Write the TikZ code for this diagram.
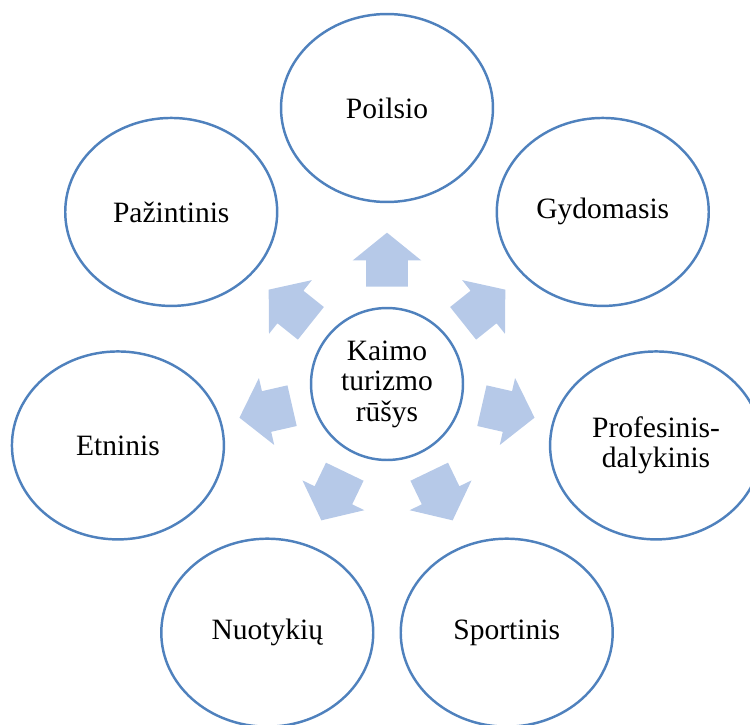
\documentclass[tikz,border=0pt]{standalone}
\usepackage{fontspec}
\setmainfont{Liberation Serif}
\usetikzlibrary{shapes.geometric,shapes.arrows}
\definecolor{linija}{RGB}{79,129,189}
\definecolor{rodyklesp}{RGB}{182,201,232}
\tikzset{
  rusis/.style={ellipse, draw=linija, line width=1.4pt, minimum width=4.24cm, minimum height=3.76cm,
    inner sep=0pt, align=center, font=\fontsize{16.8}{17.4}\selectfont},
  centras/.style={circle, draw=linija, line width=1.4pt, minimum size=3.04cm,
    inner sep=0pt, align=center, font=\fontsize{16.8}{17.4}\selectfont},
  rodykle/.style={single arrow, fill=rodyklesp, draw=none, minimum height=1.08cm, anchor=tail,
    inner xsep=0pt, inner ysep=0.41cm, single arrow head extend=0.27cm, single arrow tip angle=102}
}

\begin{document}
\begin{tikzpicture}[x=0.02cm,y=0.02cm]
            \useasboundingbox (-387,-340) rectangle (363,384);
            
            \node[centras] (kaimas) at (0,0) {Kaimo\\turizmo\\rūšys};
            
            \node[rusis] (poilsio) at (90:276) {Poilsio};
            \node[rusis] (gydomasis) at (38.57:276) {Gydomasis};
            \node[rusis] (profesinis) at (-12.86:276) {Profesinis-\\dalykinis};
            \node[rusis] (sportinis) at (-64.29:276) {Sportinis};
            \node[rusis] (nuotykiu) at (-115.71:276) {Nuotykių};
            \node[rusis] (etninis) at (-167.14:276) {Etninis};
            \node[rusis] (pazintinis) at (141.43:276) {Pažintinis};
            
            \foreach \a [count=\i] in {90,38.57,-12.86,-64.29,-115.71,-167.14,141.43}
                \node[rodykle, rotate=\a] (rod\i) at (\a:97) {};
        \end{tikzpicture}
\end{document}
